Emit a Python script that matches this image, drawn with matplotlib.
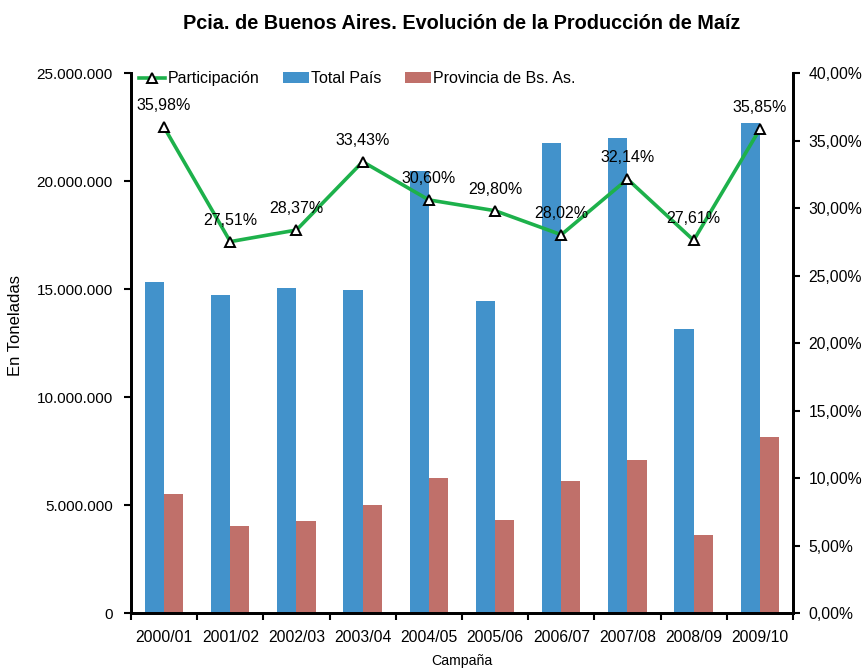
import numpy as np
import matplotlib.pyplot as plt
from matplotlib.ticker import FuncFormatter

campanas = ['2000/01', '2001/02', '2002/03', '2003/04', '2004/05',
            '2005/06', '2006/07', '2007/08', '2008/09', '2009/10']
total_pais = [15320000, 14710000, 15040000, 14950000, 20480000,
              14450000, 21750000, 22000000, 13130000, 22680000]
provincia = [5510000, 4050000, 4270000, 5000000, 6270000,
             4310000, 6090000, 7070000, 3630000, 8130000]
participacion = [35.98, 27.51, 28.37, 33.43, 30.60,
                 29.80, 28.02, 32.14, 27.61, 35.85]

azul = '#4292CB'
rojo = '#C0706A'
verde = '#1DB14B'

plt.rcParams['font.family'] = ['Liberation Sans', 'DejaVu Sans']

fig = plt.figure(figsize=(8.64, 6.68), dpi=100)
ax = fig.add_axes([0.1516, 0.0823, 0.7662, 0.8084])
ax2 = ax.twinx()

x = np.arange(len(campanas))
w = 0.29
b1 = ax.bar(x - w / 2, total_pais, w, color=azul, label='Total País')
b2 = ax.bar(x + w / 2, provincia, w, color=rojo, label='Provincia de Bs. As.')

l1, = ax2.plot(x, participacion, color=verde, lw=2.6, marker='^',
               markersize=7, markerfacecolor='white', markeredgecolor='black',
               markeredgewidth=1.4, label='Participación')
for xi, p in zip(x, participacion):
    ax2.annotate(('%.2f' % p).replace('.', ',') + '%', (xi, p),
                 xytext=(0, 10), textcoords='offset points',
                 ha='center', va='bottom', fontsize=11.5)

ax.set_xlim(-0.5, len(campanas) - 0.5)
ax.set_ylim(0, 25000000)
ax.set_yticks(np.arange(0, 25000001, 5000000))
ax.yaxis.set_major_formatter(FuncFormatter(
    lambda v, p: '{:,.0f}'.format(v).replace(',', '.')))
ax2.set_ylim(0, 40)
ax2.set_yticks(np.arange(0, 41, 5))
ax2.yaxis.set_major_formatter(FuncFormatter(
    lambda v, p: ('%.2f' % v).replace('.', ',') + '%'))

ax.set_xticks(x)
ax.set_xticklabels(campanas)
ax.set_xticks(np.arange(-0.5, len(campanas)), minor=True)
ax.tick_params(axis='x', which='major', length=0, labelsize=11.3, pad=12)
ax.tick_params(axis='x', which='minor', length=5, width=1.5, direction='out')
ax.tick_params(axis='y', length=5, width=1.5, labelsize=11, pad=8)
ax2.tick_params(axis='y', length=5, width=1.5, labelsize=11.3, pad=6)

for a in (ax, ax2):
    a.spines['top'].set_visible(False)
    for s in ('left', 'right', 'bottom'):
        a.spines[s].set_linewidth(2)

ax.set_ylabel('En Toneladas', fontsize=12)
ax.yaxis.set_label_coords(-0.163, 0.533)
ax.set_xlabel('Campaña', fontsize=10.2, labelpad=7)
ax.set_title('Pcia. de Buenos Aires. Evolución de la Producción de Maíz',
             fontsize=14.3, fontweight='bold', pad=32)

ax.legend([l1, b1, b2], ['Participación', 'Total País', 'Provincia de Bs. As.'],
          ncol=3, frameon=False, loc='upper left', bbox_to_anchor=(-0.009, 1.03),
          fontsize=11.5, handlelength=1.6, handleheight=0.6,
          handletextpad=0.15, columnspacing=1.5)

fig.savefig('out.png', dpi=100)
